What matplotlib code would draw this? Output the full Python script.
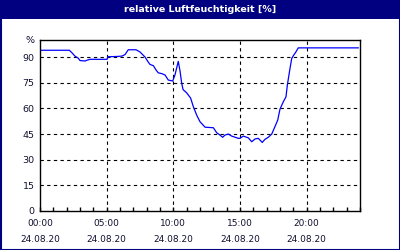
import numpy as np
import matplotlib.pyplot as plt
from matplotlib.patches import Rectangle

# humidity trace, hours since 00:00 and percent
hours = [0, 2.2, 2.4, 2.63, 2.85, 3.0, 3.38, 3.53, 3.75, 5.03, 5.1, 5.85, 6.15, 6.38,
         6.62, 7.2, 7.5, 7.88, 8.1, 8.25, 8.5, 8.7, 8.87, 9.15, 9.38, 9.62, 9.95,
         10.12, 10.37, 10.5, 10.63, 10.73, 11.0, 11.3, 11.5, 11.75, 12.0, 12.38,
         13.0, 13.25, 13.5, 13.7, 13.87, 14.12, 14.38, 14.87, 15.0, 15.25, 15.62,
         15.88, 16.12, 16.37, 16.67, 16.87, 17.12, 17.38, 17.62, 17.83, 18.0,
         18.25, 18.45, 18.55, 18.75, 18.88, 19.0, 19.2, 19.37, 23.87]
humidity = [94, 94, 92.5, 90.5, 89.5, 88, 87.7, 88.2, 88.7, 88.7, 90.2, 90.4, 90.6,
            91.5, 94.3, 94.3, 93.0, 90, 87.3, 85.7, 85, 82.5, 80.8, 80.3, 79.5,
            76.6, 76, 79.5, 87.5, 82, 74.6, 71, 69.1, 66, 61, 56.1, 52.2, 49,
            48.7, 45.8, 44.4, 43.1, 44.4, 45, 43.8, 42.5, 42.5, 43.8, 42.8,
            40.5, 42.1, 42.5, 40.1, 41.9, 43.1, 45, 49.3, 53.2, 59.6,
            63.9, 66.8, 73.6, 83.4, 89.2, 90.8, 93.1, 95.4, 95.4]

ytick_vals = [0, 15, 30, 45, 60, 75, 90, 100]
ytick_labels = ["0", "15", "30", "45", "60", "75", "90", "%"]
xtick_vals = [0, 5, 10, 15, 20]
xtick_labels = ["00:00\n24.08.20", "05:00\n24.08.20", "10:00\n24.08.20",
                "15:00\n24.08.20", "20:00\n24.08.20"]
title = "relative Luftfeuchtigkeit [%]"

navy = "#000080"
txt = "#101030"

fig = plt.figure(figsize=(4, 2.5), dpi=100)
fig.patch.set_facecolor("white")

# title bar and frame
fig.patches.append(Rectangle((0, 1 - 19 / 250), 1, 19 / 250, transform=fig.transFigure,
                             facecolor=navy, edgecolor="none", zorder=0))
fig.patches.append(Rectangle((0.5 / 400, 0.5 / 250), 399 / 400, 249 / 250,
                             transform=fig.transFigure, facecolor="none",
                             edgecolor=navy, linewidth=1.5, zorder=5))
fig.text(0.5, 1 - 9.5 / 250, title, color="white", fontweight="bold",
         fontsize=6.8, ha="center", va="center", family="DejaVu Sans")

ax = fig.add_axes([40 / 400, 39 / 250, 320 / 400, 171 / 250])
ax.plot(hours, humidity, color="#0000ff", linewidth=0.9)

ax.set_xlim(0, 24)
ax.set_ylim(0, 100)
ax.set_yticks(ytick_vals)
ax.set_yticklabels(ytick_labels)
ax.set_xticks(xtick_vals)
ax.set_xticklabels(xtick_labels, linespacing=2.0)
ax.set_xticks(np.arange(0, 25, 1), minor=True)

ax.tick_params(axis="y", length=0, pad=4, labelsize=6.8, labelcolor=txt)
ax.tick_params(axis="x", which="both", direction="in", length=3, width=1,
               pad=6, labelsize=6.5, labelcolor=txt, top=False)

for v in ytick_vals[1:-1]:
    ax.axhline(v, color="black", linestyle=(0, (3, 3)), linewidth=0.8, zorder=1)
for v in xtick_vals[1:]:
    ax.axvline(v, color="black", linestyle=(0, (3, 3)), linewidth=0.8, zorder=1)

for s in ax.spines.values():
    s.set_linewidth(1.0)
    s.set_color("black")

fig.savefig("out.png", dpi=100)
